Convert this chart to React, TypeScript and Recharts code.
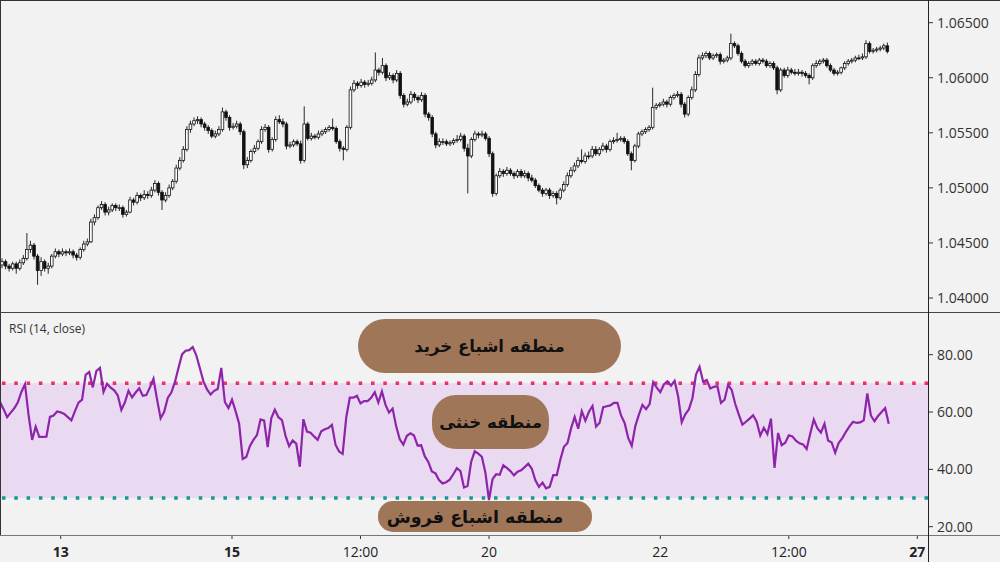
// EUR/USD hourly candles with RSI(14) panel and zone labels

import {
  ComposedChart,
  Bar,
  Line,
  XAxis,
  YAxis,
  ReferenceArea,
  ReferenceLine,
} from 'recharts';

// [open, high, low, close] per hourly candle
const candles: number[][] = [
  [1.0430,1.0436,1.0427,1.0433],[1.0433,1.0435,1.0426,1.0429],[1.0429,1.0431,1.0424,1.0427],[1.0427,1.0433,1.0425,1.0431],
  [1.0431,1.0433,1.0422,1.0427],[1.0427,1.0435,1.0425,1.0432],[1.0432,1.0439,1.0430,1.0436],[1.0436,1.0459,1.0434,1.0444],
  [1.0444,1.0452,1.0441,1.0448],[1.0448,1.0450,1.0435,1.0438],[1.0438,1.0440,1.0412,1.0425],[1.0425,1.0437,1.0420,1.0433],
  [1.0433,1.0435,1.0424,1.0427],[1.0427,1.0432,1.0422,1.0429],[1.0429,1.0440,1.0427,1.0438],[1.0438,1.0445,1.0436,1.0442],
  [1.0442,1.0444,1.0437,1.0440],[1.0440,1.0445,1.0438,1.0442],[1.0442,1.0444,1.0438,1.0441],[1.0441,1.0445,1.0439,1.0442],
  [1.0442,1.0444,1.0436,1.0439],[1.0439,1.0441,1.0434,1.0437],[1.0437,1.0446,1.0435,1.0444],[1.0444,1.0452,1.0442,1.0449],
  [1.0449,1.0454,1.0447,1.0451],[1.0451,1.0472,1.0450,1.0469],[1.0469,1.0476,1.0466,1.0473],[1.0473,1.0484,1.0471,1.0482],
  [1.0482,1.0488,1.0480,1.0485],[1.0485,1.0487,1.0475,1.0478],[1.0478,1.0483,1.0475,1.0480],[1.0480,1.0486,1.0478,1.0484],
  [1.0484,1.0486,1.0479,1.0482],[1.0482,1.0485,1.0479,1.0482],[1.0482,1.0484,1.0473,1.0476],[1.0476,1.0480,1.0474,1.0478],
  [1.0478,1.0492,1.0477,1.0489],[1.0489,1.0491,1.0484,1.0487],[1.0487,1.0496,1.0485,1.0493],[1.0493,1.0495,1.0488,1.0491],
  [1.0491,1.0498,1.0489,1.0494],[1.0494,1.0497,1.0490,1.0493],[1.0493,1.0501,1.0491,1.0498],[1.0498,1.0507,1.0496,1.0504],
  [1.0504,1.0506,1.0493,1.0496],[1.0496,1.0498,1.0480,1.0489],[1.0489,1.0496,1.0487,1.0493],[1.0493,1.0503,1.0491,1.0500],
  [1.0500,1.0508,1.0498,1.0506],[1.0506,1.0521,1.0504,1.0518],[1.0518,1.0528,1.0516,1.0525],[1.0525,1.0538,1.0523,1.0535],
  [1.0535,1.0556,1.0533,1.0553],[1.0553,1.0561,1.0550,1.0558],[1.0558,1.0564,1.0556,1.0561],[1.0561,1.0565,1.0558,1.0562],
  [1.0562,1.0564,1.0555,1.0558],[1.0558,1.0560,1.0552,1.0555],[1.0555,1.0557,1.0549,1.0552],[1.0552,1.0554,1.0545,1.0547],
  [1.0547,1.0552,1.0545,1.0549],[1.0549,1.0556,1.0547,1.0553],[1.0553,1.0573,1.0551,1.0569],[1.0569,1.0571,1.0561,1.0564],
  [1.0564,1.0566,1.0552,1.0555],[1.0555,1.0559,1.0553,1.0556],[1.0556,1.0561,1.0554,1.0558],[1.0558,1.0560,1.0548,1.0551],
  [1.0551,1.0553,1.0517,1.0521],[1.0521,1.0528,1.0518,1.0525],[1.0525,1.0535,1.0523,1.0533],[1.0533,1.0539,1.0531,1.0536],
  [1.0536,1.0544,1.0534,1.0542],[1.0542,1.0556,1.0540,1.0553],[1.0553,1.0558,1.0551,1.0555],[1.0555,1.0557,1.0532,1.0535],
  [1.0535,1.0546,1.0533,1.0544],[1.0544,1.0565,1.0542,1.0562],[1.0562,1.0566,1.0558,1.0560],[1.0560,1.0563,1.0555,1.0558],
  [1.0558,1.0560,1.0535,1.0538],[1.0538,1.0542,1.0536,1.0539],[1.0539,1.0544,1.0537,1.0542],[1.0542,1.0544,1.0538,1.0540],
  [1.0540,1.0543,1.0522,1.0525],[1.0525,1.0574,1.0523,1.0558],[1.0558,1.0560,1.0543,1.0545],[1.0545,1.0550,1.0543,1.0547],
  [1.0547,1.0549,1.0544,1.0546],[1.0546,1.0552,1.0544,1.0549],[1.0549,1.0553,1.0547,1.0551],[1.0551,1.0555,1.0549,1.0553],
  [1.0553,1.0557,1.0551,1.0555],[1.0555,1.0563,1.0552,1.0554],[1.0554,1.0556,1.0540,1.0542],[1.0542,1.0544,1.0533,1.0536],
  [1.0536,1.0538,1.0525,1.0535],[1.0535,1.0557,1.0533,1.0555],[1.0555,1.0592,1.0553,1.0589],[1.0589,1.0598,1.0587,1.0595],
  [1.0595,1.0597,1.0590,1.0593],[1.0593,1.0599,1.0591,1.0596],[1.0596,1.0598,1.0591,1.0594],[1.0594,1.0598,1.0592,1.0595],
  [1.0595,1.0601,1.0593,1.0598],[1.0598,1.0623,1.0596,1.0607],[1.0607,1.0609,1.0602,1.0605],[1.0605,1.0618,1.0603,1.0611],
  [1.0611,1.0613,1.0597,1.0600],[1.0600,1.0605,1.0598,1.0602],[1.0602,1.0604,1.0595,1.0598],[1.0598,1.0607,1.0596,1.0604],
  [1.0604,1.0606,1.0581,1.0584],[1.0584,1.0586,1.0573,1.0576],[1.0576,1.0581,1.0574,1.0578],[1.0578,1.0588,1.0576,1.0585],
  [1.0585,1.0587,1.0579,1.0582],[1.0582,1.0584,1.0577,1.0580],[1.0580,1.0587,1.0578,1.0584],[1.0584,1.0586,1.0564,1.0567],
  [1.0567,1.0569,1.0561,1.0564],[1.0564,1.0566,1.0546,1.0549],[1.0549,1.0551,1.0536,1.0539],[1.0539,1.0545,1.0537,1.0542],
  [1.0542,1.0545,1.0539,1.0542],[1.0542,1.0544,1.0538,1.0540],[1.0540,1.0543,1.0538,1.0541],[1.0541,1.0545,1.0539,1.0543],
  [1.0543,1.0548,1.0541,1.0544],[1.0544,1.0550,1.0542,1.0547],[1.0547,1.0549,1.0533,1.0536],[1.0536,1.0540,1.0495,1.0529],
  [1.0529,1.0546,1.0527,1.0544],[1.0544,1.0552,1.0542,1.0549],[1.0549,1.0551,1.0545,1.0548],[1.0548,1.0552,1.0546,1.0549],
  [1.0549,1.0551,1.0543,1.0545],[1.0545,1.0547,1.0528,1.0531],[1.0531,1.0533,1.0492,1.0495],[1.0495,1.0513,1.0493,1.0511],
  [1.0511,1.0518,1.0509,1.0515],[1.0515,1.0517,1.0510,1.0513],[1.0513,1.0519,1.0511,1.0516],[1.0516,1.0518,1.0511,1.0513],
  [1.0513,1.0515,1.0508,1.0511],[1.0511,1.0517,1.0509,1.0515],[1.0515,1.0517,1.0509,1.0511],[1.0511,1.0516,1.0509,1.0513],
  [1.0513,1.0515,1.0506,1.0509],[1.0509,1.0512,1.0505,1.0507],[1.0507,1.0509,1.0500,1.0502],[1.0502,1.0504,1.0496,1.0498],
  [1.0498,1.0500,1.0492,1.0495],[1.0495,1.0500,1.0493,1.0498],[1.0498,1.0500,1.0490,1.0493],[1.0493,1.0497,1.0491,1.0495],
  [1.0495,1.0497,1.0485,1.0491],[1.0491,1.0500,1.0489,1.0498],[1.0498,1.0506,1.0496,1.0503],[1.0503,1.0514,1.0501,1.0511],
  [1.0511,1.0519,1.0509,1.0516],[1.0516,1.0523,1.0514,1.0520],[1.0520,1.0528,1.0518,1.0525],[1.0525,1.0535,1.0522,1.0524],
  [1.0524,1.0532,1.0522,1.0529],[1.0529,1.0533,1.0526,1.0529],[1.0529,1.0538,1.0527,1.0535],[1.0535,1.0538,1.0529,1.0531],
  [1.0531,1.0537,1.0529,1.0535],[1.0535,1.0541,1.0533,1.0538],[1.0538,1.0540,1.0532,1.0535],[1.0535,1.0544,1.0533,1.0542],
  [1.0542,1.0546,1.0540,1.0543],[1.0543,1.0550,1.0541,1.0544],[1.0544,1.0547,1.0542,1.0545],[1.0545,1.0547,1.0540,1.0542],
  [1.0542,1.0544,1.0529,1.0531],[1.0531,1.0533,1.0516,1.0525],[1.0525,1.0540,1.0523,1.0538],[1.0538,1.0551,1.0536,1.0549],
  [1.0549,1.0553,1.0547,1.0551],[1.0551,1.0555,1.0549,1.0553],[1.0553,1.0557,1.0551,1.0555],[1.0555,1.0591,1.0553,1.0573],
  [1.0573,1.0577,1.0571,1.0575],[1.0575,1.0578,1.0573,1.0576],[1.0576,1.0581,1.0574,1.0578],[1.0578,1.0580,1.0573,1.0576],
  [1.0576,1.0584,1.0574,1.0582],[1.0582,1.0586,1.0580,1.0584],[1.0584,1.0588,1.0582,1.0585],[1.0585,1.0587,1.0573,1.0576],
  [1.0576,1.0578,1.0564,1.0567],[1.0567,1.0584,1.0565,1.0582],[1.0582,1.0592,1.0580,1.0589],[1.0589,1.0606,1.0587,1.0603],
  [1.0603,1.0621,1.0601,1.0618],[1.0618,1.0623,1.0616,1.0620],[1.0620,1.0624,1.0618,1.0622],[1.0622,1.0624,1.0616,1.0618],
  [1.0618,1.0622,1.0616,1.0620],[1.0620,1.0623,1.0618,1.0621],[1.0621,1.0623,1.0612,1.0615],[1.0615,1.0618,1.0613,1.0616],
  [1.0616,1.0620,1.0614,1.0618],[1.0618,1.0640,1.0616,1.0631],[1.0631,1.0633,1.0627,1.0629],[1.0629,1.0631,1.0620,1.0622],
  [1.0622,1.0624,1.0613,1.0615],[1.0615,1.0617,1.0609,1.0611],[1.0611,1.0615,1.0609,1.0613],[1.0613,1.0617,1.0611,1.0615],
  [1.0615,1.0617,1.0611,1.0613],[1.0613,1.0618,1.0611,1.0616],[1.0616,1.0618,1.0613,1.0615],[1.0615,1.0617,1.0609,1.0611],
  [1.0611,1.0615,1.0609,1.0613],[1.0613,1.0615,1.0607,1.0609],[1.0609,1.0611,1.0585,1.0589],[1.0589,1.0609,1.0587,1.0607],
  [1.0607,1.0609,1.0600,1.0602],[1.0602,1.0610,1.0600,1.0607],[1.0607,1.0609,1.0603,1.0605],[1.0605,1.0608,1.0602,1.0604],
  [1.0604,1.0608,1.0602,1.0605],[1.0605,1.0607,1.0601,1.0604],[1.0604,1.0606,1.0600,1.0602],[1.0602,1.0604,1.0594,1.0600],
  [1.0600,1.0613,1.0598,1.0611],[1.0611,1.0616,1.0609,1.0613],[1.0613,1.0617,1.0611,1.0615],[1.0615,1.0618,1.0613,1.0616],
  [1.0616,1.0618,1.0609,1.0611],[1.0611,1.0613,1.0605,1.0607],[1.0607,1.0609,1.0602,1.0604],[1.0604,1.0607,1.0602,1.0605],
  [1.0605,1.0610,1.0603,1.0609],[1.0609,1.0615,1.0607,1.0613],[1.0613,1.0617,1.0611,1.0615],[1.0615,1.0618,1.0613,1.0616],
  [1.0616,1.0620,1.0614,1.0618],[1.0618,1.0621,1.0616,1.0618],[1.0618,1.0622,1.0616,1.0619],[1.0619,1.0634,1.0617,1.0631],
  [1.0631,1.0633,1.0622,1.0624],[1.0624,1.0627,1.0622,1.0625],[1.0625,1.0628,1.0623,1.0626],[1.0626,1.0629,1.0624,1.0627],
  [1.0627,1.0631,1.0625,1.0629],[1.0629,1.0632,1.0622,1.0624],
];

// RSI(14) on close, one value per candle
const rsiValues: number[] = [
  63.5,61.0,58.2,59.8,61.3,63.4,67.0,69.7,59.0,50.3,54.9,51.3,51.3,51.4,58.3,58.8,60.2,59.9,59.3,58.2,
  57.1,60.3,63.3,64.3,73.0,74.0,68.6,74.3,75.4,67.0,69.9,68.5,67.6,65.8,60.7,63.4,67.4,65.1,66.8,68.3,
  65.7,65.9,68.6,71.6,64.4,57.8,60.1,64.9,66.8,70.4,75.4,80.1,81.4,81.6,82.7,79.8,75.3,70.7,67.9,66.1,
  67.4,68.0,75.4,63.5,61.4,64.3,60.3,55.9,43.6,44.3,48.1,50.3,52.0,57.4,57.0,47.8,57.8,60.8,58.2,57.2,
  51.7,48.1,50.1,49.0,40.9,57.5,53.2,52.8,51.5,50.3,53.3,54.0,54.4,55.5,48.6,46.2,45.4,58.0,65.0,65.0,
  65.7,63.0,63.8,63.8,65.0,66.9,63.3,67.2,62.6,59.8,61.2,55.0,50.5,48.6,51.7,52.6,51.8,48.3,48.4,44.6,
  42.6,39.3,38.6,36.3,35.1,35.5,36.4,38.3,40.4,39.4,33.7,34.2,42.6,46.3,45.5,44.4,38.8,29.3,36.6,38.3,
  38.1,41.4,40.5,39.4,37.9,39.2,39.7,40.8,42.0,40.2,36.2,33.9,35.4,33.4,33.9,38.0,38.0,43.4,47.9,49.2,
  54.3,58.3,54.2,60.3,57.0,60.1,62.1,54.9,56.3,61.7,62.0,62.3,63.2,63.2,58.8,56.2,51.0,48.2,55.1,59.1,
  62.5,61.0,62.8,70.4,68.5,66.9,69.6,70.7,69.2,70.9,65.4,56.4,59.2,60.9,64.8,73.1,75.8,70.6,71.2,68.2,
  68.8,69.0,63.2,64.3,69.5,67.7,62.8,59.1,55.6,56.6,57.7,58.9,56.6,51.8,54.5,52.3,57.7,40.5,52.7,48.4,
  49.3,51.9,51.5,50.0,49.1,48.7,47.1,52.4,57.4,54.4,52.8,55.9,50.1,49.4,45.8,49.3,50.9,53.1,55.0,56.6,
  56.2,56.4,57.1,66.5,58.8,56.8,58.6,60.0,61.4,55.9,
];

// hourly slots on the time axis (the last ones are empty space after the final candle)
const SLOTS = 261;
const xTickIndex = [17, 65, 101, 137, 185, 221, 257];
const xTickLabels = ['13', '15', '12:00', '20', '22', '12:00', '27'];
const boldTicks = ['13', '15', '27'];

const priceTicks = [1.04, 1.045, 1.05, 1.055, 1.06, 1.065];
const priceDomain = [1.03864, 1.06706];
const rsiTicks = [20, 40, 60, 80];
const rsiDomain = [17.1, 94.9];
const overbought = 70;
const oversold = 30;

const rows = Array.from({ length: SLOTS }, (_, i) => {
  const c = candles[i];
  if (!c) return { i, rsi: null };
  return {
    i,
    open: c[0],
    high: c[1],
    low: c[2],
    close: c[3],
    range: [c[2], c[1]],
    rsi: rsiValues[i],
  };
});

const FONT = '"Open Sans", "DejaVu Sans", sans-serif';
const FA_FONT = '"DejaVu Sans", sans-serif';

// candle drawn inside the low-high bar that recharts positions for us
const Candle = (props: any) => {
  const { x, y, width, height, payload } = props;
  if (!payload || payload.open == null || !isFinite(y)) return null;
  const { open, close, high, low } = payload;
  const top = Math.min(y, y + height);
  const h = Math.abs(height);
  const span = high - low || 1e-9;
  const toY = (v: number) => top + ((high - v) / span) * h;
  const cx = x + width / 2;
  const up = close >= open;
  const bTop = toY(Math.max(open, close));
  const bBot = toY(Math.min(open, close));
  const bw = Math.max(width * 0.66, 1.5);
  return (
    <g>
      <line x1={cx} x2={cx} y1={top} y2={top + h} stroke="#2a2a2a" strokeWidth={1} />
      <rect
        x={cx - bw / 2}
        y={bTop}
        width={bw}
        height={Math.max(bBot - bTop, 0.8)}
        fill={up ? '#ffffff' : '#111111'}
        stroke="#111111"
        strokeWidth={0.8}
      />
    </g>
  );
};

const XTick = (props: any) => {
  const { x, y, payload } = props;
  const idx = xTickIndex.indexOf(payload.value);
  const label = idx >= 0 ? xTickLabels[idx] : '';
  return (
    <text
      x={x}
      y={y}
      dy="0.71em"
      textAnchor="middle"
      fontSize={14}
      fontFamily={FONT}
      fontWeight={boldTicks.includes(label) ? 700 : 400}
      fill="#222"
    >
      {label}
    </text>
  );
};

const pillBase: React.CSSProperties = {
  position: 'absolute',
  background: '#a07658',
  color: '#111',
  fontFamily: FA_FONT,
  fontWeight: 700,
  display: 'flex',
  alignItems: 'center',
  justifyContent: 'center',
  direction: 'rtl',
  whiteSpace: 'nowrap',
  boxSizing: 'border-box',
};

export default function App() {
  return (
    <div
      style={{
        position: 'relative',
        width: 1000,
        height: 562,
        background: '#f2f2f2',
        overflow: 'hidden',
        fontFamily: FONT,
      }}
    >
      <style>{'body{margin:0}'}</style>

      {/* price panel */}
      <div style={{ position: 'absolute', left: 0, top: 0 }}>
        <ComposedChart
          width={1000}
          height={313}
          data={rows}
          margin={{ top: 0, right: 0, left: 0, bottom: 0 }}
          barCategoryGap="0%"
        >
          <XAxis dataKey="i" type="category" hide padding={{ left: 0, right: 0 }} />
          <YAxis
            orientation="right"
            width={72}
            domain={priceDomain}
            allowDataOverflow
            ticks={priceTicks}
            interval={0}
            tickFormatter={(v: number) => v.toFixed(5)}
            tick={{ fill: '#333', fontSize: 14, fontFamily: FONT }}
            axisLine={false}
            tickLine={{ stroke: '#333' }}
            tickSize={5}
            tickMargin={4}
          />
          <Bar dataKey="range" shape={Candle} isAnimationActive={false} />
        </ComposedChart>
      </div>

      {/* RSI panel */}
      <div style={{ position: 'absolute', left: 0, top: 312 }}>
        <ComposedChart
          width={1000}
          height={250}
          data={rows}
          margin={{ top: 0, right: 0, left: 0, bottom: 0 }}
        >
          <XAxis
            dataKey="i"
            type="category"
            height={27}
            ticks={xTickIndex}
            interval={0}
            tick={<XTick />}
            axisLine={false}
            tickLine={{ stroke: '#333' }}
            tickSize={4}
            tickMargin={8}
            padding={{ left: 0, right: 0 }}
          />
          <YAxis
            orientation="right"
            width={72}
            domain={rsiDomain}
            allowDataOverflow
            ticks={rsiTicks}
            interval={0}
            tickFormatter={(v: number) => v.toFixed(2)}
            tick={{ fill: '#333', fontSize: 14, fontFamily: FONT }}
            axisLine={false}
            tickLine={{ stroke: '#333' }}
            tickSize={5}
            tickMargin={4}
          />
          <ReferenceArea y1={oversold} y2={overbought} fill="#e9daf2" fillOpacity={1} stroke="none" />
          <ReferenceLine y={overbought} stroke="#ee2a6e" strokeWidth={3.5} strokeDasharray="3.5 8.8" />
          <ReferenceLine y={oversold} stroke="#14998c" strokeWidth={3.5} strokeDasharray="3.5 8.8" />
          <Line
            type="linear"
            dataKey="rsi"
            stroke="#8e24aa"
            strokeWidth={2.2}
            dot={false}
            activeDot={false}
            isAnimationActive={false}
          />
        </ComposedChart>
      </div>

      {/* frame lines */}
      <div style={{ position: 'absolute', left: 0, top: 0, width: 1000, height: 1, background: '#333' }} />
      <div style={{ position: 'absolute', left: 0, top: 0, width: 1, height: 535, background: '#333' }} />
      <div style={{ position: 'absolute', left: 0, top: 312, width: 1000, height: 1, background: '#444' }} />
      <div style={{ position: 'absolute', left: 0, top: 535, width: 1000, height: 1, background: '#777' }} />
      <div style={{ position: 'absolute', left: 928, top: 0, width: 1, height: 562, background: '#222' }} />

      <div style={{ position: 'absolute', left: 9, top: 320, fontSize: 12, color: '#333', fontFamily: FONT }}>
        RSI (14, close)
      </div>

      {/* zone labels */}
      <div style={{ ...pillBase, left: 358, top: 319, width: 263, height: 54, borderRadius: 27, fontSize: 16.5 }}>
        منطقه اشباع خرید
      </div>
      <div style={{ ...pillBase, left: 432, top: 395, width: 117, height: 54, borderRadius: 24, fontSize: 16.5 }}>
        منطقه خنثی
      </div>
      <div
        style={{
          ...pillBase,
          left: 378,
          top: 501,
          width: 214,
          height: 31,
          borderRadius: 15,
          fontSize: 17.5,
          paddingRight: 20,
        }}
      >
        منطقه اشباع فروش
      </div>
    </div>
  );
}
